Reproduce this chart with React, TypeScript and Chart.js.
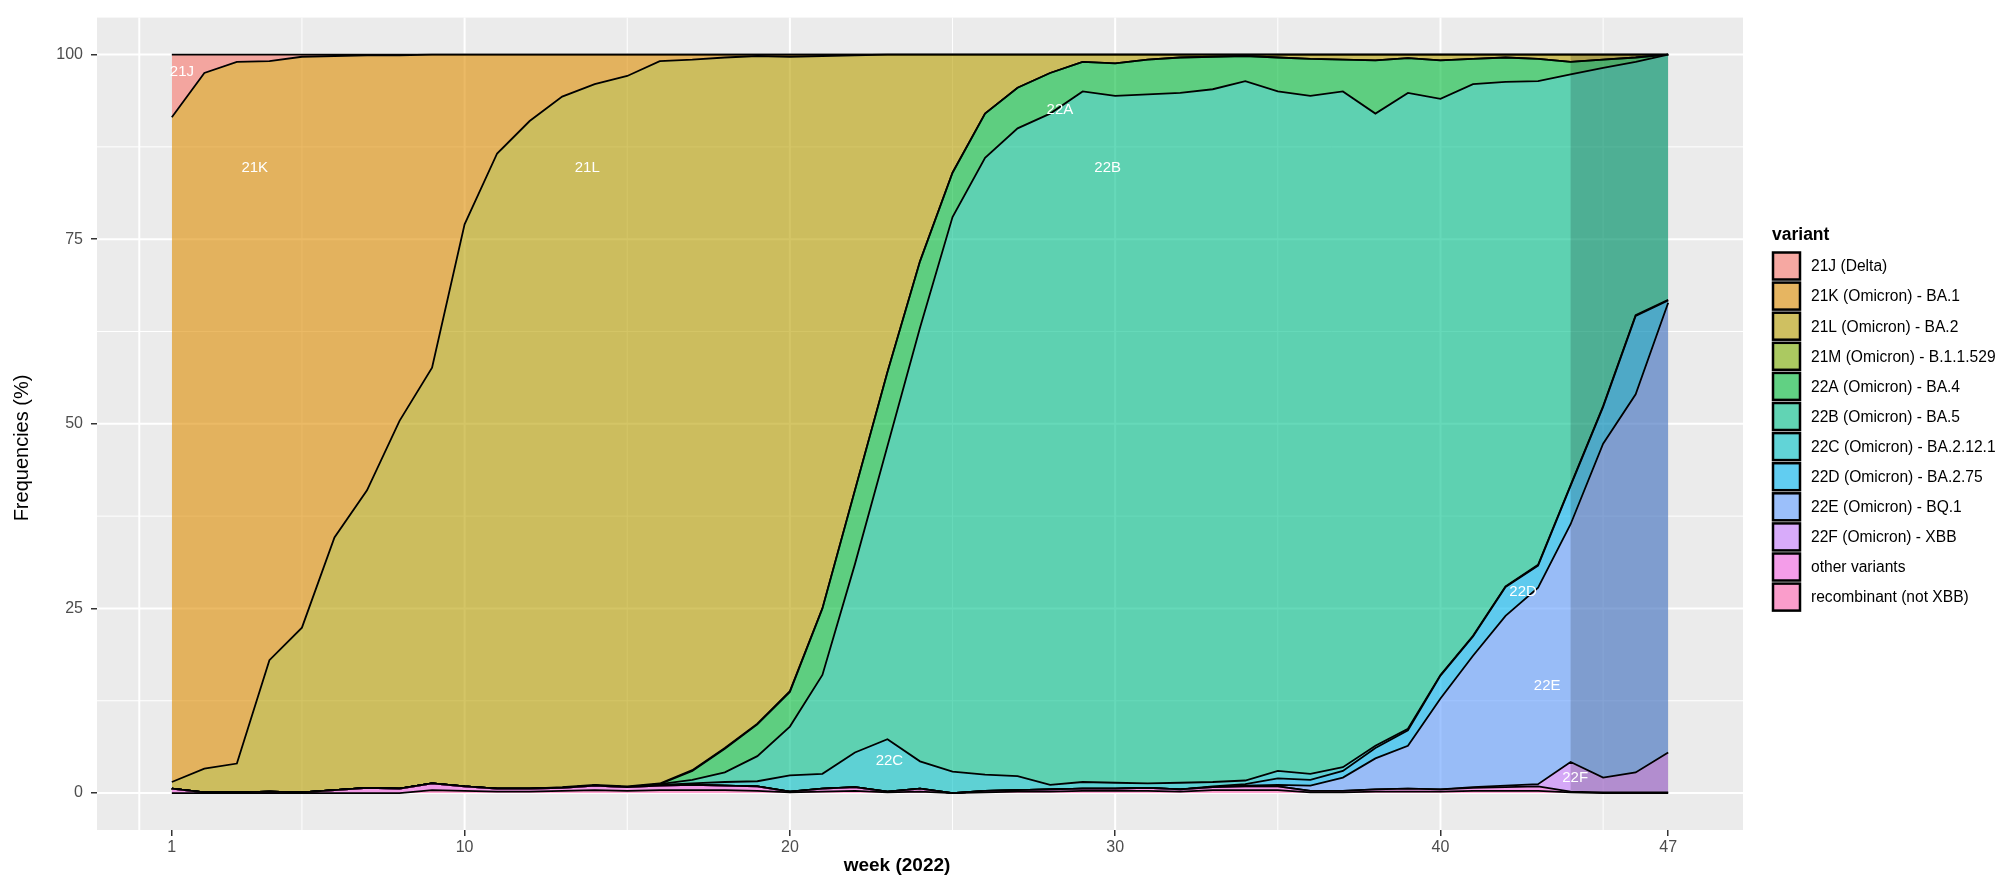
import React, { useEffect, useRef } from "react";
import { Chart, registerables } from "chart.js";

Chart.register(...registerables);

// ---------------- data ----------------
const WEEKS = [1, 2, 3, 4, 5, 6, 7, 8, 9, 10, 11, 12, 13, 14, 15, 16, 17, 18, 19, 20, 21, 22, 23, 24, 25, 26, 27, 28, 29, 30, 31, 32, 33, 34, 35, 36, 37, 38, 39, 40, 41, 42, 43, 44, 45, 46, 47];

const VARIANTS = [
  "21J (Delta)",
  "21K (Omicron) - BA.1",
  "21L (Omicron) - BA.2",
  "21M (Omicron) - B.1.1.529",
  "22A (Omicron) - BA.4",
  "22B (Omicron) - BA.5",
  "22C (Omicron) - BA.2.12.1",
  "22D (Omicron) - BA.2.75",
  "22E (Omicron) - BQ.1",
  "22F (Omicron) - XBB",
  "other variants",
  "recombinant (not XBB)",
];

const V21J = [8.5, 2.5, 1.0, 0.9, 0.3, 0.2, 0.1, 0.1, 0, 0, 0, 0, 0, 0, 0, 0, 0, 0, 0, 0, 0, 0, 0, 0, 0, 0, 0, 0, 0, 0, 0, 0, 0, 0, 0, 0, 0, 0, 0, 0, 0, 0, 0, 0, 0, 0, 0];
const V21K = [90.0, 94.2, 95.0, 81.1, 77.3, 65.2, 58.9, 49.5, 42.4, 23.0, 13.4, 9.0, 5.7, 4.0, 2.9, 0.9, 0.7, 0.4, 0.2, 0.3, 0.2, 0.1, 0, 0, 0, 0, 0, 0, 0, 0, 0, 0, 0, 0, 0, 0, 0, 0, 0, 0, 0, 0, 0, 0, 0, 0, 0];
const V21L = [0.9, 3.2, 3.9, 17.8, 22.3, 34.2, 40.3, 49.8, 56.3, 76.1, 86.0, 90.4, 93.5, 94.9, 96.2, 97.8, 96.2, 93.5, 90.4, 85.9, 74.8, 58.9, 43.0, 28.0, 16.0, 8.0, 4.5, 2.5, 1.0, 1.2, 0.7, 0.4, 0.3, 0.2, 0.4, 0.6, 0.7, 0.8, 0.5, 0.8, 0.6, 0.4, 0.6, 1.0, 0.7, 0.4, 0];
const V21M = [0, 0, 0, 0, 0, 0, 0, 0, 0, 0, 0, 0, 0.1, 0.1, 0.1, 0.1, 0.1, 0.1, 0.1, 0.1, 0, 0, 0, 0, 0, 0, 0, 0, 0, 0, 0, 0, 0, 0, 0, 0, 0, 0, 0, 0, 0, 0, 0, 0, 0, 0, 0];
const V22A = [0, 0, 0, 0, 0, 0, 0, 0, 0, 0, 0, 0, 0, 0, 0, 0, 1.2, 3.2, 4.3, 4.7, 9.0, 10, 10, 9, 6, 6, 5.5, 5.5, 4.0, 4.4, 4.7, 4.8, 4.4, 3.4, 4.6, 5.0, 4.3, 7.2, 4.7, 5.2, 3.4, 3.3, 3.0, 1.7, 1.1, 0.6, 0];
const V22B = [0, 0, 0, 0, 0, 0, 0, 0, 0, 0, 0, 0, 0, 0, 0, 0.1, 0.5, 1.3, 3.4, 6.6, 13.4, 25.5, 39.7, 58.7, 75.1, 83.5, 87.7, 90.9, 93.5, 93.0, 93.3, 93.4, 93.8, 94.7, 92.0, 91.8, 91.5, 85.6, 86.1, 78.0, 74.7, 68.3, 65.5, 55.6, 45.8, 34.3, 33.2];
const V22C = [0, 0, 0, 0, 0, 0, 0, 0, 0, 0, 0, 0, 0, 0, 0, 0.1, 0.2, 0.5, 0.7, 2.2, 2.0, 4.7, 7.1, 3.7, 2.9, 2.2, 1.9, 0.6, 0.9, 0.8, 0.6, 0.9, 0.6, 0.5, 1.0, 0.8, 0.5, 0.3, 0.2, 0.1, 0.1, 0.1, 0.1, 0.1, 0.1, 0.1, 0.1];
const V22D = [0, 0, 0, 0, 0, 0, 0, 0, 0, 0, 0, 0, 0, 0, 0, 0, 0, 0, 0, 0, 0, 0, 0, 0, 0, 0, 0, 0, 0, 0, 0, 0, 0.1, 0.2, 0.9, 0.8, 0.9, 1.4, 2.1, 3.1, 2.6, 3.9, 3.0, 5.2, 5.0, 10.6, 0.3];
const V22E = [0, 0, 0, 0, 0, 0, 0, 0, 0, 0, 0, 0, 0, 0, 0, 0, 0, 0, 0, 0, 0, 0, 0, 0, 0, 0, 0, 0, 0, 0, 0, 0, 0, 0.1, 0.2, 0.7, 1.8, 4.2, 5.8, 12.3, 17.8, 23.0, 26.6, 32.2, 45.2, 51.2, 60.9];
const V22F = [0, 0, 0, 0, 0, 0, 0, 0, 0, 0, 0, 0, 0, 0, 0, 0, 0, 0, 0, 0, 0, 0, 0, 0, 0, 0, 0, 0, 0, 0, 0, 0, 0, 0, 0, 0, 0, 0, 0, 0, 0.1, 0.2, 0.3, 4.0, 2.0, 2.7, 5.4];
const VOTHER = [0.6, 0.1, 0.1, 0.2, 0.1, 0.4, 0.7, 0.6, 0.9, 0.6, 0.4, 0.4, 0.4, 0.6, 0.5, 0.6, 0.7, 0.6, 0.6, 0.1, 0.4, 0.5, 0.1, 0.4, 0.0, 0.2, 0.2, 0.3, 0.3, 0.3, 0.4, 0.3, 0.4, 0.5, 0.5, 0.2, 0.2, 0.3, 0.4, 0.3, 0.4, 0.5, 0.6, 0.1, 0.1, 0.1, 0.1];
const VRECOMB = [0, 0, 0, 0, 0, 0, 0, 0, 0.4, 0.3, 0.2, 0.2, 0.3, 0.4, 0.3, 0.4, 0.4, 0.4, 0.3, 0.1, 0.2, 0.3, 0.1, 0.2, 0, 0.1, 0.2, 0.2, 0.3, 0.3, 0.3, 0.2, 0.4, 0.4, 0.4, 0.1, 0.1, 0.2, 0.2, 0.2, 0.3, 0.3, 0.3, 0.1, 0, 0, 0];

// values in legend order (21J first)
const VALUES = [V21J, V21K, V21L, V21M, V22A, V22B, V22C, V22D, V22E, V22F, VOTHER, VRECOMB];

const X_TICKS = [1, 10, 20, 30, 40, 47];
const Y_TICKS = [0, 25, 50, 75, 100];

// in-plot labels: [text, week, percent]
const AREA_LABELS: [string, number, number][] = [
  ["21J", 1.31, 97.6],
  ["21K", 3.55, 84.7],
  ["21L", 13.77, 84.7],
  ["22A", 28.3, 92.5],
  ["22B", 29.77, 84.7],
  ["22C", 23.06, 4.3],
  ["22D", 42.54, 27.2],
  ["22E", 43.28, 14.5],
  ["22F", 44.14, 2.1],
];

const SHADE_WEEKS = [44, 47];

// ---------------- style ----------------
const HUES = ["#F8766D", "#DE8C00", "#B79F00", "#7CAE00", "#00BA38", "#00C08B", "#00BFC4", "#00B4F0", "#619CFF", "#C77CFF", "#F564E3", "#FF64B0"];
const ALPHA = 0.6;
const FONT = '"Liberation Sans", Arial, Helvetica, sans-serif';

const X_GRID_MAJOR = [0, 10, 20, 30, 40];
const X_GRID_MINOR = [5, 15, 25, 35, 45];
const Y_GRID_MAJOR = [0, 25, 50, 75, 100];
const Y_GRID_MINOR = [12.5, 37.5, 62.5, 87.5];

function rgba(hex: string, a: number) {
  const r = parseInt(hex.slice(1, 3), 16);
  const g = parseInt(hex.slice(3, 5), 16);
  const b = parseInt(hex.slice(5, 7), 16);
  return `rgba(${r},${g},${b},${a})`;
}

const bgPlugin = {
  id: "ggBackground",
  beforeDraw(chart: any) {
    const { ctx, chartArea: a, scales } = chart;
    const x = scales.x;
    const y = scales.y;
    ctx.save();
    ctx.fillStyle = "#FFFFFF";
    ctx.fillRect(0, 0, chart.width, chart.height);
    ctx.fillStyle = "#EBEBEB";
    ctx.fillRect(a.left, a.top, a.right - a.left, a.bottom - a.top);
    ctx.strokeStyle = "#FFFFFF";
    const vline = (v: number) => {
      const px = x.getPixelForValue(v);
      ctx.beginPath();
      ctx.moveTo(px, a.top);
      ctx.lineTo(px, a.bottom);
      ctx.stroke();
    };
    const hline = (v: number) => {
      const py = y.getPixelForValue(v);
      ctx.beginPath();
      ctx.moveTo(a.left, py);
      ctx.lineTo(a.right, py);
      ctx.stroke();
    };
    ctx.lineWidth = 1;
    X_GRID_MINOR.forEach(vline);
    Y_GRID_MINOR.forEach(hline);
    ctx.lineWidth = 2;
    X_GRID_MAJOR.forEach(vline);
    Y_GRID_MAJOR.forEach(hline);
    ctx.restore();
  },
};

const overlayPlugin = {
  id: "ggOverlay",
  afterDatasetsDraw(chart: any) {
    const { ctx, scales } = chart;
    const x = scales.x;
    const y = scales.y;
    ctx.save();
    // shaded weeks
    const x0 = x.getPixelForValue(SHADE_WEEKS[0]);
    const x1 = x.getPixelForValue(SHADE_WEEKS[1]);
    const y0 = y.getPixelForValue(100);
    const y1 = y.getPixelForValue(0);
    ctx.fillStyle = "rgba(0,0,0,0.16)";
    ctx.fillRect(x0, y0, x1 - x0, y1 - y0);
    // area labels
    ctx.fillStyle = "#FFFFFF";
    ctx.font = `15px ${FONT}`;
    ctx.textAlign = "center";
    ctx.textBaseline = "middle";
    AREA_LABELS.forEach(([t, w, p]) => {
      ctx.fillText(t, x.getPixelForValue(w), y.getPixelForValue(p));
    });
    ctx.restore();
  },
  afterDraw(chart: any) {
    const { ctx } = chart;
    ctx.save();
    // axis titles
    ctx.fillStyle = "#000000";
    ctx.textAlign = "center";
    ctx.textBaseline = "middle";
    ctx.font = `bold 19px ${FONT}`;
    ctx.fillText("week (2022)", 897, 866);
    ctx.save();
    ctx.translate(22, 448);
    ctx.rotate(-Math.PI / 2);
    ctx.font = `20px ${FONT}`;
    ctx.fillText("Frequencies (%)", 0, 0);
    ctx.restore();
    // legend
    ctx.textAlign = "left";
    ctx.font = `bold 17.5px ${FONT}`;
    ctx.fillText("variant", 1772, 235);
    ctx.font = `15.6px ${FONT}`;
    VARIANTS.forEach((name, i) => {
      const cy = 266 + i * 30.1;
      const kx = 1773;
      const ks = 27;
      ctx.fillStyle = "#F2F2F2";
      ctx.fillRect(kx, cy - ks / 2, ks, ks);
      ctx.fillStyle = rgba(HUES[i], ALPHA);
      ctx.fillRect(kx, cy - ks / 2, ks, ks);
      ctx.strokeStyle = "#000000";
      ctx.lineWidth = 2.5;
      ctx.strokeRect(kx, cy - ks / 2, ks, ks);
      ctx.fillStyle = "#000000";
      ctx.fillText(name, 1811, cy + 1);
    });
    ctx.restore();
  },
};

function buildConfig(): any {
  // stack bottom -> top: recombinant ... 21J
  const order = VARIANTS.map((_, i) => i).reverse();
  const datasets = order.map((idx, k) => ({
    label: VARIANTS[idx],
    data: WEEKS.map((w, j) => ({ x: w, y: VALUES[idx][j] })),
    backgroundColor: rgba(HUES[idx], ALPHA),
    borderColor: "#000000",
    borderWidth: 1.8,
    pointRadius: 0,
    pointHoverRadius: 0,
    tension: 0,
    fill: k === 0 ? "origin" : "-1",
  }));
  const tickFont = { family: FONT, size: 16 };
  return {
    type: "line",
    data: { datasets },
    plugins: [bgPlugin, overlayPlugin],
    options: {
      responsive: false,
      animation: false,
      devicePixelRatio: 1,
      events: [],
      layout: { padding: { top: 7, right: 257, bottom: 0, left: 0 } },
      plugins: {
        legend: { display: false },
        tooltip: { enabled: false },
        title: { display: false },
      },
      scales: {
        x: {
          type: "linear",
          min: -1.3,
          max: 49.3,
          afterBuildTicks: (s: any) => {
            s.ticks = X_TICKS.map((v) => ({ value: v }));
          },
          afterFit: (s: any) => {
            s.height = 48;
          },
          grid: { drawOnChartArea: false, drawTicks: true, tickLength: 6, color: "#333333", lineWidth: 1.5 },
          border: { display: false },
          ticks: {
            autoSkip: false,
            maxRotation: 0,
            minRotation: 0,
            color: "#4D4D4D",
            font: tickFont,
            padding: 2,
            callback: (v: any) => String(v),
          },
        },
        y: {
          type: "linear",
          stacked: true,
          min: -5,
          max: 105,
          afterBuildTicks: (s: any) => {
            s.ticks = Y_TICKS.map((v) => ({ value: v }));
          },
          afterFit: (s: any) => {
            s.width = 97;
          },
          grid: { drawOnChartArea: false, drawTicks: true, tickLength: 6, color: "#333333", lineWidth: 1.5 },
          border: { display: false },
          ticks: {
            color: "#4D4D4D",
            font: tickFont,
            padding: 8,
            callback: (v: any) => String(v),
          },
        },
      },
    },
  };
}

export default function App() {
  const ref = useRef<HTMLCanvasElement | null>(null);
  useEffect(() => {
    if (!ref.current) return;
    const chart = new Chart(ref.current, buildConfig());
    return () => chart.destroy();
  }, []);
  return (
    <div style={{ position: "absolute", left: 0, top: 0, width: 2000, height: 878, background: "#FFFFFF", overflow: "hidden" }}>
      <canvas ref={ref} width={2000} height={878} style={{ display: "block", width: 2000, height: 878 }} />
    </div>
  );
}
